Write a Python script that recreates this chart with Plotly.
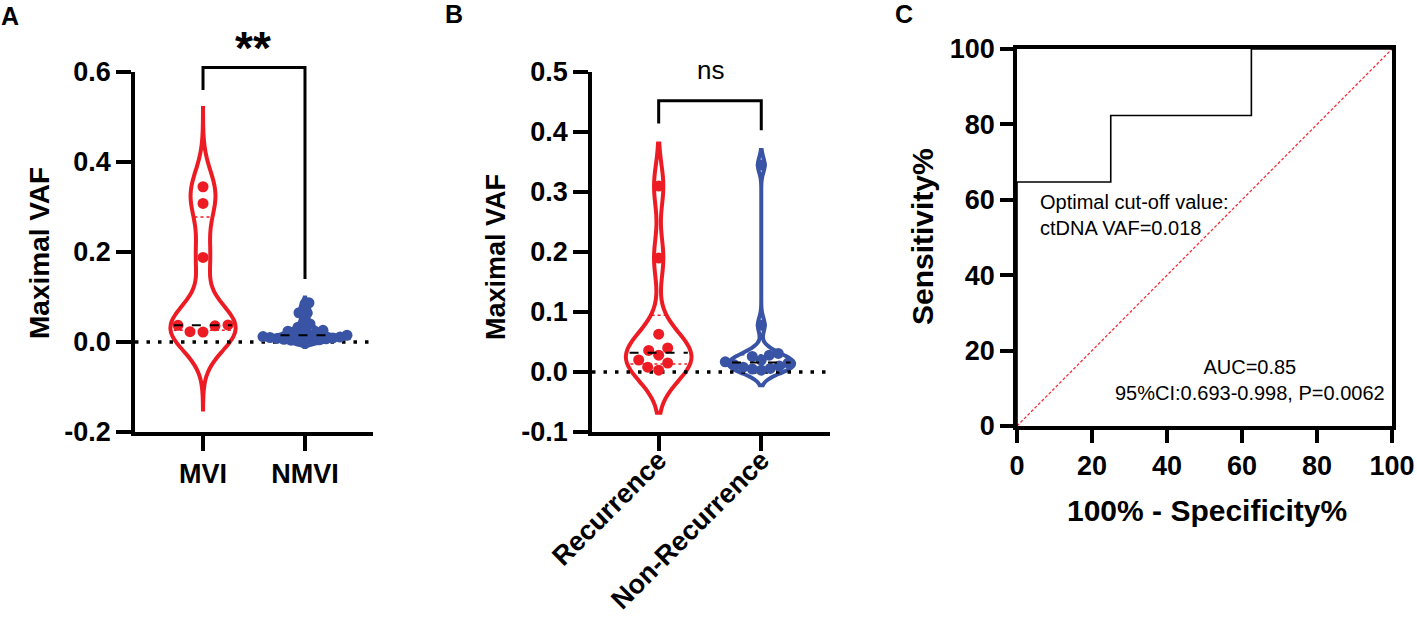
import numpy as np
import plotly.graph_objects as go

# ---- data ----
# panel A : maximal VAF by MVI status
mvi_vals = [0.345, 0.308, 0.188, 0.038, 0.037, 0.036, 0.023, 0.022]
nmvi_vals = [0.087, 0.076, 0.065, 0.062, 0.048, 0.040, 0.033, 0.030, 0.026, 0.024,
             0.021, 0.019, 0.017, 0.015, 0.014, 0.012, 0.011, 0.010, 0.009, 0.008,
             0.007, 0.006, 0.005, 0.004, 0.003, 0.002, 0.001]
a_labels = ['MVI', 'NMVI']
a_yticks = [-0.2, 0.0, 0.2, 0.4, 0.6]
a_yticktext = ['-0.2', '0.0', '0.2', '0.4', '0.6']

# panel B : maximal VAF by recurrence
rec_vals = [0.310, 0.190, 0.063, 0.040, 0.036, 0.028, 0.020, 0.015, 0.008, 0.003]
nonrec_vals = [0.345, 0.078, 0.031, 0.028, 0.026, 0.020, 0.017, 0.015, 0.012,
               0.010, 0.008, 0.006, 0.005, 0.003]
b_labels = ['Recurrence', 'Non-Recurrence']
b_yticks = [-0.1, 0.0, 0.1, 0.2, 0.3, 0.4, 0.5]
b_yticktext = ['-0.1', '0.0', '0.1', '0.2', '0.3', '0.4', '0.5']

# panel C : ROC curve
roc_fpr = [0, 0, 25, 62.5, 100]
roc_tpr = [0, 64.71, 82.35, 100, 100]
c_ticks = [0, 20, 40, 60, 80, 100]

RED = '#ED1C24'
BLUE = '#3A54A5'
FONT = 'Liberation Sans, Arial, sans-serif'
W, H = 1417, 617

# subplot geometry (paper fractions)
domA_x, domB_x, domC_x = [135 / W, 373 / W], [592 / W, 830 / W], [1017 / W, 1392 / W]
domAB_y = [1 - 432 / H, 1 - 72 / H]
domC_y = [1 - 426 / H, 1 - 49 / H]
rngA_x, rngA_y = [-0.667, 1.667], [-0.2, 0.6]
rngB_x, rngB_y = [-0.65, 1.67], [-0.1, 0.5]


def to_paper(dom, rng, v):
    return dom[0] + (v - rng[0]) / (rng[1] - rng[0]) * (dom[1] - dom[0])


def swarm(vals, dom_x, rng_x, dom_y, rng_y, d=9.0):
    # simple beeswarm: offsets in x-data units so dots barely overlap
    ppx = (dom_x[1] - dom_x[0]) * W / (rng_x[1] - rng_x[0])
    ppy = (dom_y[1] - dom_y[0]) * H / (rng_y[1] - rng_y[0])
    vals = np.asarray(vals)
    offs = np.zeros(len(vals))
    placed = []
    cands = sorted(range(-60, 61), key=abs)
    for i in np.argsort(vals):
        y = vals[i] * ppy
        for c in cands:
            if all((c - px) ** 2 + (y - py) ** 2 >= d * d for px, py in placed):
                break
        placed.append((c, y))
        offs[i] = c / ppx
    return offs


def half_width(vals, bw, span, v, width):
    vals = np.asarray(vals)
    grid = np.linspace(span[0], span[1], 400)
    kde = lambda t: np.exp(-0.5 * ((t[:, None] - vals[None, :]) / bw) ** 2).sum(1)
    return width / 2 * kde(np.array([v]))[0] / kde(grid).max()


fig = go.Figure()
shapes = []
VW = 0.64

groups = [
    # vals, pos, color, bw, span, xaxis, yaxis, dom_x, rng_x, rng_y, dot spacing
    (mvi_vals, 0, RED, 0.05, [-0.15, 0.52], 'x', 'y', domA_x, rngA_x, rngA_y, 13),
    (nmvi_vals, 1, BLUE, 0.006, None, 'x', 'y', domA_x, rngA_x, rngA_y, 6.5),
    (rec_vals, 0, RED, 0.0355, None, 'x2', 'y2', domB_x, rngB_x, rngB_y, 11),
    (nonrec_vals, 1, BLUE, 0.0125, None, 'x2', 'y2', domB_x, rngB_x, rngB_y, 9),
]

# dotted zero lines
for xa, ya, rx in [('x', 'y', rngA_x), ('x2', 'y2', rngB_x)]:
    fig.add_trace(go.Scatter(x=rx, y=[0, 0], mode='lines', xaxis=xa, yaxis=ya,
                             line=dict(color='black', width=3.5, dash='3.5px,8px'),
                             hoverinfo='skip', showlegend=False))

for vals, pos, col, bw, span, xa, ya, dx, rx, ry, dsp in groups:
    if span is None:
        span = [min(vals) - 2 * bw, max(vals) + 2 * bw]
    fig.add_trace(go.Violin(
        x=[pos] * len(vals), y=vals, xaxis=xa, yaxis=ya, width=VW,
        bandwidth=bw, spanmode='manual', span=span, points=False,
        line=dict(color=col, width=4), fillcolor='rgba(0,0,0,0)',
        box_visible=False, meanline_visible=False, hoverinfo='skip',
        showlegend=False))
    # median (black dashed) and quartiles (dotted)
    q1, med, q3 = np.percentile(vals, [25, 50, 75], method='weibull')
    for v, c, dash, lw in [(med, 'black', 'dash', 2), (q1, col, 'dot', 1.5), (q3, col, 'dot', 1.5)]:
        hw = half_width(vals, bw, span, v, VW) * 0.9
        shapes.append(dict(type='line', xref=xa, yref=ya, x0=pos - hw, x1=pos + hw,
                           y0=v, y1=v, line=dict(color=c, width=lw, dash=dash)))
    offs = swarm(vals, dx, rx, domAB_y, ry, d=dsp)
    fig.add_trace(go.Scatter(
        x=pos + offs, y=vals, mode='markers', xaxis=xa, yaxis=ya,
        marker=dict(color=col, size=11, line=dict(width=0)),
        hoverinfo='skip', showlegend=False, cliponaxis=False))

# ROC
fig.add_trace(go.Scatter(x=[0, 100], y=[0, 100], mode='lines', xaxis='x3', yaxis='y3',
                         line=dict(color='#F0303A', width=1.3, dash='3px,2px'),
                         hoverinfo='skip', showlegend=False))
fig.add_trace(go.Scatter(x=roc_fpr, y=roc_tpr, mode='lines', xaxis='x3', yaxis='y3',
                         line=dict(color='black', width=1.6, shape='hv'),
                         hoverinfo='skip', showlegend=False))

# significance brackets (paper coords so they may sit above the axis)
def bracket(dom_x, rng_x, rng_y, yl, ytop, yr):
    xs = [to_paper(dom_x, rng_x, p) for p in (0, 1)]
    yp = [to_paper(domAB_y, rng_y, v) for v in (yl, ytop, yr)]
    return dict(type='path', xref='paper', yref='paper',
                path=f'M {xs[0]} {yp[0]} L {xs[0]} {yp[1]} L {xs[1]} {yp[1]} L {xs[1]} {yp[2]}',
                line=dict(color='black', width=3))

shapes.append(bracket(domA_x, rngA_x, rngA_y, 0.56, 0.61, 0.14))
shapes.append(bracket(domB_x, rngB_x, rngB_y, 0.414, 0.452, 0.403))

tickfont = dict(family=FONT, size=27, color='black', weight='bold')
ax_common = dict(showgrid=False, zeroline=False, showline=True, linecolor='black',
                 linewidth=3.5, ticks='outside', ticklen=15, tickwidth=3.5,
                 tickcolor='black', tickfont=tickfont, automargin=False)

fig.update_layout(
    width=W, height=H, margin=dict(l=0, r=0, t=0, b=0, autoexpand=False),
    paper_bgcolor='white', plot_bgcolor='white', violinmode='overlay',
    xaxis=dict(domain=domA_x, range=rngA_x, tickvals=[0, 1], ticktext=a_labels,
               anchor='y', **ax_common),
    yaxis=dict(domain=domAB_y, range=rngA_y, tickvals=a_yticks, ticktext=a_yticktext,
               anchor='x', **ax_common),
    xaxis2=dict(domain=domB_x, range=rngB_x, tickvals=[0, 1], ticktext=b_labels,
                tickangle=-45, ticklabelstandoff=-17, anchor='y2', **ax_common),
    yaxis2=dict(domain=domAB_y, range=rngB_y, tickvals=b_yticks, ticktext=b_yticktext,
                anchor='x2', **ax_common),
    xaxis3=dict(domain=domC_x, range=[0, 100], tickvals=c_ticks, anchor='y3',
                mirror=True, **ax_common),
    yaxis3=dict(domain=domC_y, range=[0, 100], tickvals=c_ticks, anchor='x3',
                mirror=True, **ax_common),
    shapes=shapes,
)
fig.update_xaxes(ticklen=13, selector=dict(anchor='y3'))
fig.update_yaxes(ticklen=13, selector=dict(anchor='x3'))

bold = lambda s: dict(family=FONT, size=s, color='black', weight='bold')
reg = lambda s: dict(family=FONT, size=s, color='black')
ann = [
    dict(text='A', x=10 / W, y=1 - 16 / H, font=bold(25)),
    dict(text='B', x=454 / W, y=1 - 14 / H, font=bold(25)),
    dict(text='C', x=904 / W, y=1 - 14 / H, font=bold(25)),
    dict(text='Maximal VAF', x=39 / W, y=1 - 253 / H, textangle=-90, font=bold(28)),
    dict(text='Maximal VAF', x=496 / W, y=1 - 257 / H, textangle=-90, font=bold(27)),
    dict(text='Sensitivity%', x=922 / W, y=1 - 237 / H, textangle=-90, font=bold(30)),
    dict(text='100% - Specificity%', x=1207 / W, y=1 - 510 / H, font=bold(30)),
    dict(text='**', x=253 / W, y=1 - 48 / H, font=bold(46)),
    dict(text='ns', x=710 / W, y=1 - 70 / H, font=reg(26)),
    dict(text='Optimal cut-off value:<br>ctDNA VAF=0.018', x=1038 / W, y=1 - 215 / H,
         xanchor='left', align='left', font=reg(20)),
    dict(text='AUC=0.85<br>95%CI:0.693-0.998, P=0.0062', x=1250 / W, y=1 - 380 / H,
         align='center', font=reg(20)),
]
for a in ann:
    a.setdefault('xanchor', 'center')
    fig.add_annotation(xref='paper', yref='paper', yanchor='middle', showarrow=False, **a)

# the page body's default 8px margin would shift the whole figure
fig.write_html('out.html', config={'displayModeBar': False},
               post_script="document.body.style.margin='0';")
